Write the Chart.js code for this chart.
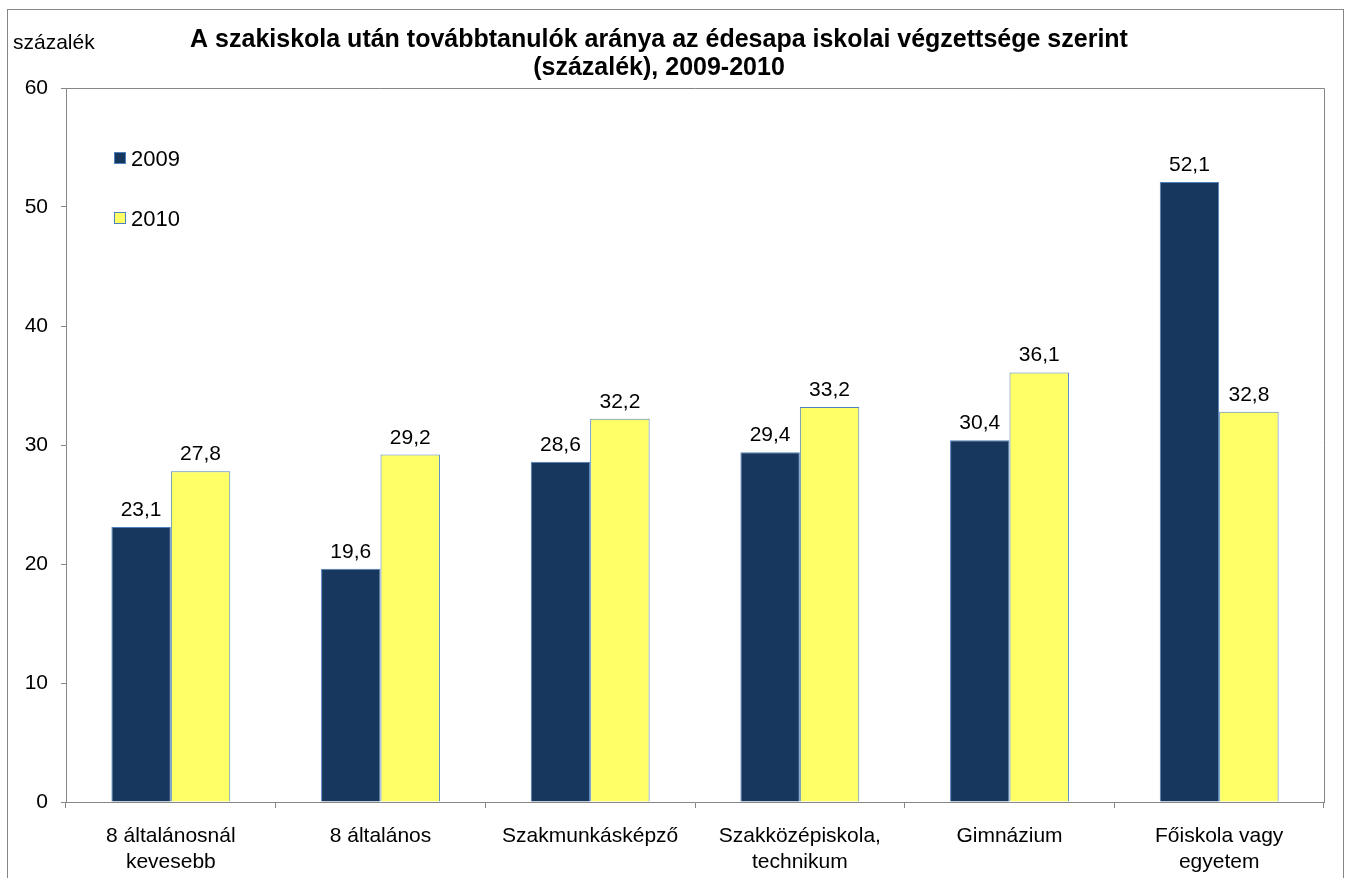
<!DOCTYPE html>
<html>
<head>
<meta charset="utf-8">
<script src="https://cdn.jsdelivr.net/npm/chart.js@4"></script>
<style>
  html, body { margin: 0; padding: 0; background: #fff; }
  #wrap { width: 1351px; height: 878px; position: relative; }
</style>
</head>
<body>
<div id="wrap"><canvas id="chart"></canvas></div>
<script>
// ── Data ──────────────────────────────────────────────────────────────
const categories = [
  ['8 általánosnál', 'kevesebb'],
  '8 általános',
  'Szakmunkásképző',
  ['Szakközépiskola,', 'technikum'],
  'Gimnázium',
  ['Főiskola vagy', 'egyetem'],
];
const seriesNames = ['2009', '2010'];
const values2009 = [23.1, 19.6, 28.6, 29.4, 30.4, 52.1];
const values2010 = [27.8, 29.2, 32.2, 33.2, 36.1, 32.8];
const yTicks = [0, 10, 20, 30, 40, 50, 60];

const titleLines = [
  'A szakiskola után továbbtanulók aránya az édesapa iskolai végzettsége szerint',
  '(százalék), 2009-2010',
];
const yUnit = 'százalék';

const FONT = '"Liberation Sans", Arial, sans-serif';
const AXIS_GRAY = '#868686';

// ── Custom drawing: frame, title, legend, value labels ───────────────
const decorPlugin = {
  id: 'decor',
  beforeDraw(chart) {
    const ctx = chart.ctx;
    ctx.save();
    ctx.fillStyle = '#fff';
    ctx.fillRect(0, 0, chart.width, chart.height);
    ctx.strokeStyle = AXIS_GRAY;
    ctx.lineWidth = 1;
    ctx.strokeRect(7.5, 9.5, 1336, 900);
    ctx.restore();
  },
  afterDatasetsDraw(chart) {
    const ctx = chart.ctx;
    const a = chart.chartArea;
    ctx.save();
    // plot-area frame (top + right)
    ctx.strokeStyle = AXIS_GRAY;
    ctx.lineWidth = 1;
    ctx.beginPath();
    ctx.moveTo(a.left, Math.round(a.top) + 0.5);
    ctx.lineTo(Math.round(a.right) + 0.5, Math.round(a.top) + 0.5);
    ctx.lineTo(Math.round(a.right) + 0.5, a.bottom);
    ctx.stroke();

    // value labels
    ctx.fillStyle = '#000';
    ctx.font = '21px ' + FONT;
    ctx.textAlign = 'center';
    ctx.textBaseline = 'alphabetic';
    chart.data.datasets.forEach((ds, i) => {
      chart.getDatasetMeta(i).data.forEach((bar, j) => {
        ctx.fillText(String(ds.data[j]).replace('.', ','), bar.x, bar.y - 11);
      });
    });

    // title
    ctx.font = 'bold 25px ' + FONT;
    ctx.fillText(titleLines[0], 659, 47);
    ctx.fillText(titleLines[1], 659, 75);

    // unit label
    ctx.font = '21px ' + FONT;
    ctx.textAlign = 'left';
    ctx.fillText(yUnit, 13, 49);

    // legend
    const legendY = [158, 218];
    chart.data.datasets.forEach((ds, i) => {
      const y = legendY[i];
      ctx.fillStyle = ds.backgroundColor;
      ctx.fillRect(114.5, y - 5.5, 11, 11);
      ctx.strokeStyle = '#4F81BD';
      ctx.strokeRect(114.5, y - 5.5, 11, 11);
      ctx.fillStyle = '#000';
      ctx.font = '22px ' + FONT;
      ctx.textAlign = 'left';
      ctx.fillText(ds.label, 131, y + 8);
    });
    ctx.restore();
  },
};

new Chart(document.getElementById('chart'), {
  type: 'bar',
  data: {
    labels: categories,
    datasets: [
      {
        label: seriesNames[0],
        data: values2009,
        backgroundColor: '#17375E',
        borderColor: '#4F81BD',
        borderWidth: 1,
      },
      {
        label: seriesNames[1],
        data: values2010,
        backgroundColor: '#FFFF66',
        borderColor: '#4F81BD',
        borderWidth: 1,
      },
    ],
  },
  options: {
    responsive: true,
    maintainAspectRatio: false,
    animation: false,
    devicePixelRatio: 1,
    categoryPercentage: 0.567,
    barPercentage: 1,
    layout: { padding: { top: 88, right: 27, bottom: 0, left: 0 } },
    plugins: {
      legend: { display: false },
      title: { display: false },
      tooltip: { enabled: false },
    },
    scales: {
      x: {
        grid: {
          display: true,
          drawOnChartArea: false,
          drawTicks: true,
          tickLength: 6,
          color: AXIS_GRAY,
          offset: true,
        },
        border: { color: AXIS_GRAY, width: 1 },
        ticks: {
          color: '#000',
          font: { family: FONT, size: 21, lineHeight: 1.2 },
          padding: 16,
          maxRotation: 0,
        },
        afterFit: s => { s.height = 76; },
      },
      y: {
        min: 0,
        max: 60,
        afterBuildTicks: s => { s.ticks = yTicks.map(v => ({ value: v })); },
        grid: {
          display: true,
          drawOnChartArea: false,
          drawTicks: true,
          tickLength: 5,
          color: AXIS_GRAY,
        },
        border: { color: AXIS_GRAY, width: 1 },
        ticks: {
          color: '#000',
          font: { family: FONT, size: 21 },
          padding: 13,
        },
        afterFit: s => { s.width = 66; },
      },
    },
  },
  plugins: [decorPlugin],
});
</script>
</body>
</html>
